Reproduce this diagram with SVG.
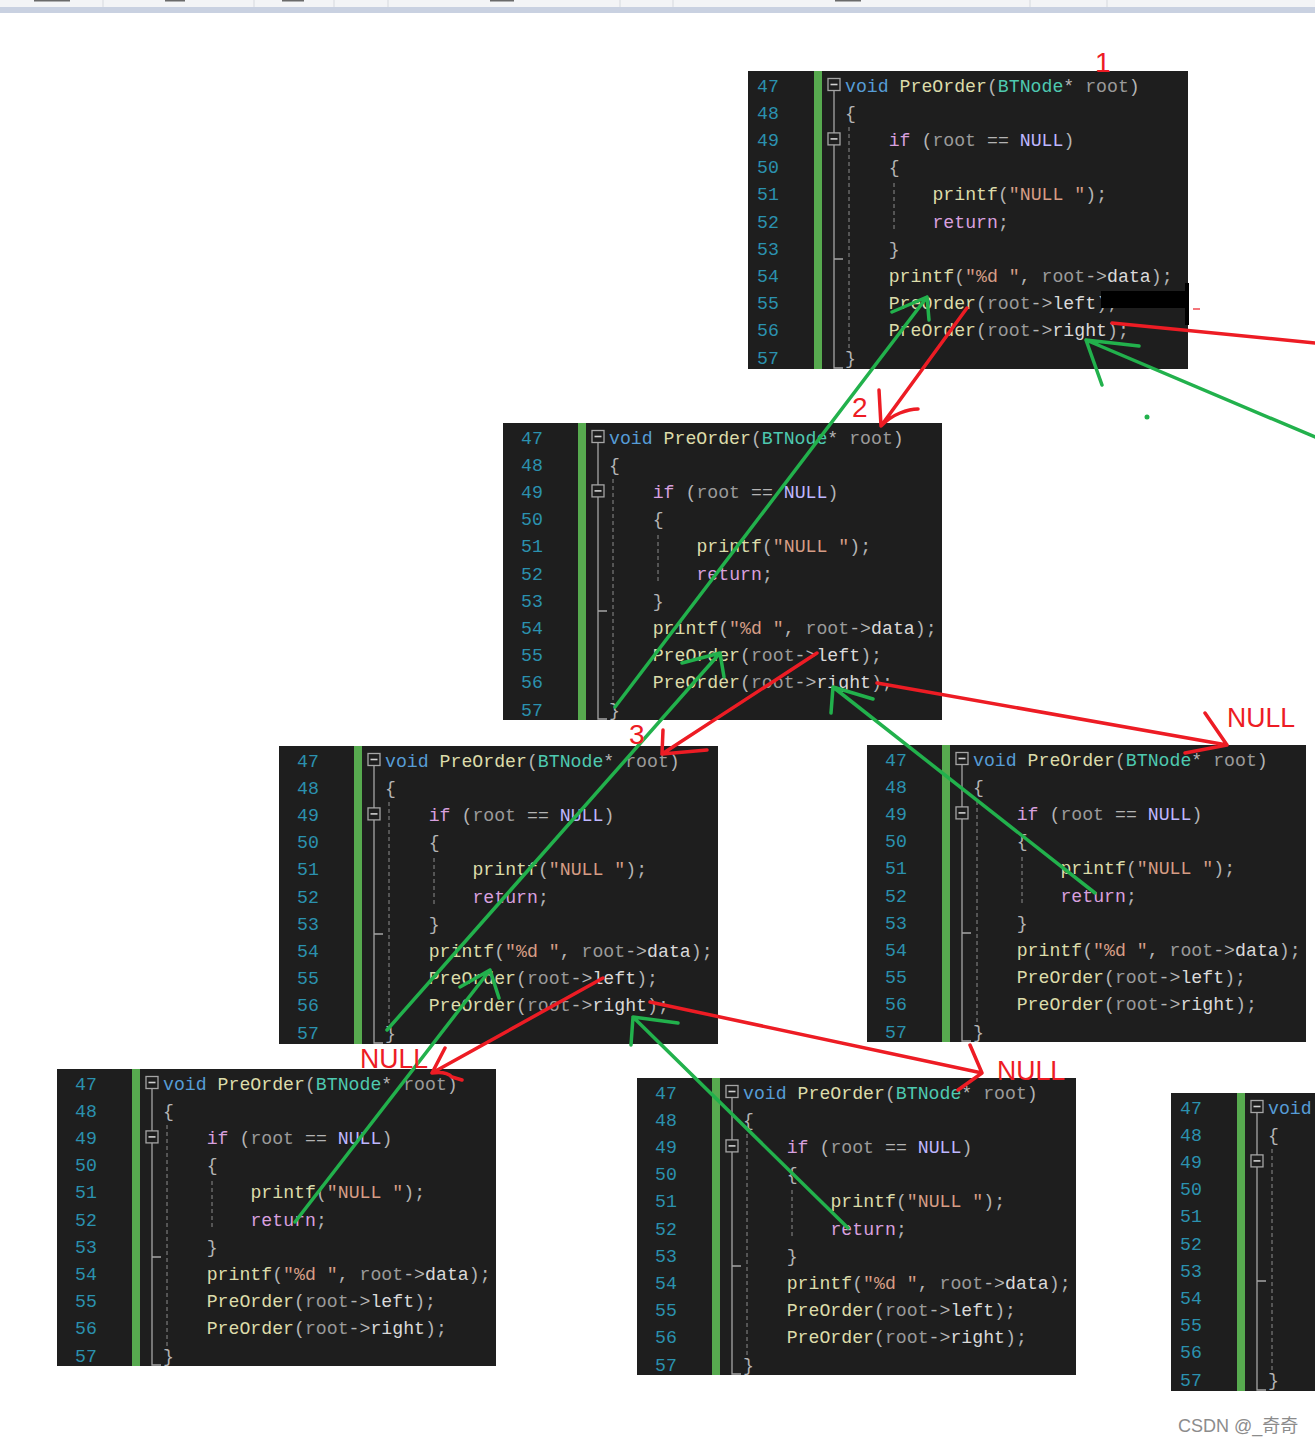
<svg xmlns="http://www.w3.org/2000/svg" width="1315" height="1444" viewBox="0 0 1315 1444">
<style>
.bg{fill:#1E1E1E}
.bar{fill:#57AA4F}
.ln{fill:#2B91AF;font-family:"Liberation Mono","DejaVu Sans Mono",monospace;font-size:18.2px}
.code{fill:#B4B4B4;font-family:"Liberation Mono","DejaVu Sans Mono",monospace;font-size:18.2px}
.k{fill:#569CD6}.f{fill:#DCDCAA}.t{fill:#4EC9B0}.p{fill:#9A9A9A}.c{fill:#D8A0DF}.m{fill:#BEB7FF}.s{fill:#D69D85}.w{fill:#DADADA}
.fold{fill:#1E1E1E;stroke:#A5A5A5;stroke-width:1.3}
.mn{stroke:#D0D0D0;stroke-width:1.6}
.fl{stroke:#A5A5A5;stroke-width:1.3;fill:none}
.dash{stroke:#7A7A7A;stroke-width:1.2;stroke-dasharray:4 3;fill:none}
.red{stroke:#ED1C24;stroke-width:3.5;fill:none;stroke-linecap:round;stroke-linejoin:round}
.grn{stroke:#22B14C;stroke-width:3.5;fill:none;stroke-linecap:round;stroke-linejoin:round}
.lbl{fill:#ED1C24;font-family:"Liberation Sans","Noto Sans",sans-serif;font-size:28px}
</style>
<rect x="0" y="0" width="1315" height="1444" fill="#FFFFFF"/>
<g id="toolbar">
<rect x="0" y="0" width="1315" height="7" fill="#F3F4F6"/>
<rect x="0" y="7" width="1315" height="6" fill="#C9D1E1"/>
<path d="M103,0V7M254,0V7M334,0V7M388,0V7M620,0V7M673,0V7M1030,0V7M1107,0V7" stroke="#D6D9DE" stroke-width="1"/>
<path d="M34,0h36M165,0h20M282,0h22M490,0h24M835,0h26" stroke="#6A6A6A" stroke-width="3"/>
</g>

<g id="node-a" transform="translate(739,71)">
<rect class="bg" x="9" y="0" width="440" height="298"/>
<rect class="bar" x="75" y="0" width="8" height="298"/>
<g class="ln"><text x="18" y="20.5">47</text><text x="18" y="47.7">48</text><text x="18" y="74.9">49</text><text x="18" y="102.1">50</text><text x="18" y="129.3">51</text><text x="18" y="156.5">52</text><text x="18" y="183.7">53</text><text x="18" y="210.9">54</text><text x="18" y="238.1">55</text><text x="18" y="265.3">56</text><text x="18" y="292.5">57</text></g>
<rect class="fold" x="89" y="7.5" width="12" height="12"/><path class="mn" d="M91.5,13.5h7"/>
<rect class="fold" x="89" y="61.9" width="12" height="12"/><path class="mn" d="M91.5,67.9h7"/>
<path class="fl" d="M95,19.5V61.9M95,73.9V297H104M95,188H104"/>
<path class="dash" d="M110,56V282M155,112V158"/>
<g class="code">
<text x="106" y="20.5"><tspan class="k">void</tspan> <tspan class="f">PreOrder</tspan>(<tspan class="t">BTNode</tspan>* <tspan class="p">root</tspan>)</text>
<text x="106" y="47.7">{</text>
<text x="149.7" y="74.9"><tspan class="c">if</tspan> (<tspan class="p">root</tspan> == <tspan class="m">NULL</tspan>)</text>
<text x="149.7" y="102.1">{</text>
<text x="193.4" y="129.3"><tspan class="f">printf</tspan>(<tspan class="s">"NULL "</tspan>);</text>
<text x="193.4" y="156.5"><tspan class="c">return</tspan>;</text>
<text x="149.7" y="183.7">}</text>
<text x="149.7" y="210.9"><tspan class="f">printf</tspan>(<tspan class="s">"%d "</tspan>, <tspan class="p">root</tspan>-&gt;<tspan class="w">data</tspan>);</text>
<text x="149.7" y="238.1"><tspan class="f">PreOrder</tspan>(<tspan class="p">root</tspan>-&gt;<tspan class="w">left</tspan>);</text>
<text x="149.7" y="265.3"><tspan class="f">PreOrder</tspan>(<tspan class="p">root</tspan>-&gt;<tspan class="w">right</tspan>);</text>
<text x="106" y="292.5">}</text>
</g>
</g>

<g id="node-b" transform="translate(503,423)">
<rect class="bg" x="0" y="0" width="439" height="297"/>
<rect class="bar" x="75" y="0" width="8" height="297"/>
<g class="ln"><text x="18" y="20.5">47</text><text x="18" y="47.7">48</text><text x="18" y="74.9">49</text><text x="18" y="102.1">50</text><text x="18" y="129.3">51</text><text x="18" y="156.5">52</text><text x="18" y="183.7">53</text><text x="18" y="210.9">54</text><text x="18" y="238.1">55</text><text x="18" y="265.3">56</text><text x="18" y="292.5">57</text></g>
<rect class="fold" x="89" y="7.5" width="12" height="12"/><path class="mn" d="M91.5,13.5h7"/>
<rect class="fold" x="89" y="61.9" width="12" height="12"/><path class="mn" d="M91.5,67.9h7"/>
<path class="fl" d="M95,19.5V61.9M95,73.9V296H104M95,188H104"/>
<path class="dash" d="M110,56V282M155,112V158"/>
<g class="code">
<text x="106" y="20.5"><tspan class="k">void</tspan> <tspan class="f">PreOrder</tspan>(<tspan class="t">BTNode</tspan>* <tspan class="p">root</tspan>)</text>
<text x="106" y="47.7">{</text>
<text x="149.7" y="74.9"><tspan class="c">if</tspan> (<tspan class="p">root</tspan> == <tspan class="m">NULL</tspan>)</text>
<text x="149.7" y="102.1">{</text>
<text x="193.4" y="129.3"><tspan class="f">printf</tspan>(<tspan class="s">"NULL "</tspan>);</text>
<text x="193.4" y="156.5"><tspan class="c">return</tspan>;</text>
<text x="149.7" y="183.7">}</text>
<text x="149.7" y="210.9"><tspan class="f">printf</tspan>(<tspan class="s">"%d "</tspan>, <tspan class="p">root</tspan>-&gt;<tspan class="w">data</tspan>);</text>
<text x="149.7" y="238.1"><tspan class="f">PreOrder</tspan>(<tspan class="p">root</tspan>-&gt;<tspan class="w">left</tspan>);</text>
<text x="149.7" y="265.3"><tspan class="f">PreOrder</tspan>(<tspan class="p">root</tspan>-&gt;<tspan class="w">right</tspan>);</text>
<text x="106" y="292.5">}</text>
</g>
</g>

<g id="node-c" transform="translate(279,746)">
<rect class="bg" x="0" y="0" width="439" height="298"/>
<rect class="bar" x="75" y="0" width="8" height="298"/>
<g class="ln"><text x="18" y="20.5">47</text><text x="18" y="47.7">48</text><text x="18" y="74.9">49</text><text x="18" y="102.1">50</text><text x="18" y="129.3">51</text><text x="18" y="156.5">52</text><text x="18" y="183.7">53</text><text x="18" y="210.9">54</text><text x="18" y="238.1">55</text><text x="18" y="265.3">56</text><text x="18" y="292.5">57</text></g>
<rect class="fold" x="89" y="7.5" width="12" height="12"/><path class="mn" d="M91.5,13.5h7"/>
<rect class="fold" x="89" y="61.9" width="12" height="12"/><path class="mn" d="M91.5,67.9h7"/>
<path class="fl" d="M95,19.5V61.9M95,73.9V297H104M95,188H104"/>
<path class="dash" d="M110,56V282M155,112V158"/>
<g class="code">
<text x="106" y="20.5"><tspan class="k">void</tspan> <tspan class="f">PreOrder</tspan>(<tspan class="t">BTNode</tspan>* <tspan class="p">root</tspan>)</text>
<text x="106" y="47.7">{</text>
<text x="149.7" y="74.9"><tspan class="c">if</tspan> (<tspan class="p">root</tspan> == <tspan class="m">NULL</tspan>)</text>
<text x="149.7" y="102.1">{</text>
<text x="193.4" y="129.3"><tspan class="f">printf</tspan>(<tspan class="s">"NULL "</tspan>);</text>
<text x="193.4" y="156.5"><tspan class="c">return</tspan>;</text>
<text x="149.7" y="183.7">}</text>
<text x="149.7" y="210.9"><tspan class="f">printf</tspan>(<tspan class="s">"%d "</tspan>, <tspan class="p">root</tspan>-&gt;<tspan class="w">data</tspan>);</text>
<text x="149.7" y="238.1"><tspan class="f">PreOrder</tspan>(<tspan class="p">root</tspan>-&gt;<tspan class="w">left</tspan>);</text>
<text x="149.7" y="265.3"><tspan class="f">PreOrder</tspan>(<tspan class="p">root</tspan>-&gt;<tspan class="w">right</tspan>);</text>
<text x="106" y="292.5">}</text>
</g>
</g>

<g id="node-d" transform="translate(867,745)">
<rect class="bg" x="0" y="0" width="439" height="297"/>
<rect class="bar" x="75" y="0" width="8" height="297"/>
<g class="ln"><text x="18" y="20.5">47</text><text x="18" y="47.7">48</text><text x="18" y="74.9">49</text><text x="18" y="102.1">50</text><text x="18" y="129.3">51</text><text x="18" y="156.5">52</text><text x="18" y="183.7">53</text><text x="18" y="210.9">54</text><text x="18" y="238.1">55</text><text x="18" y="265.3">56</text><text x="18" y="292.5">57</text></g>
<rect class="fold" x="89" y="7.5" width="12" height="12"/><path class="mn" d="M91.5,13.5h7"/>
<rect class="fold" x="89" y="61.9" width="12" height="12"/><path class="mn" d="M91.5,67.9h7"/>
<path class="fl" d="M95,19.5V61.9M95,73.9V296H104M95,188H104"/>
<path class="dash" d="M110,56V282M155,112V158"/>
<g class="code">
<text x="106" y="20.5"><tspan class="k">void</tspan> <tspan class="f">PreOrder</tspan>(<tspan class="t">BTNode</tspan>* <tspan class="p">root</tspan>)</text>
<text x="106" y="47.7">{</text>
<text x="149.7" y="74.9"><tspan class="c">if</tspan> (<tspan class="p">root</tspan> == <tspan class="m">NULL</tspan>)</text>
<text x="149.7" y="102.1">{</text>
<text x="193.4" y="129.3"><tspan class="f">printf</tspan>(<tspan class="s">"NULL "</tspan>);</text>
<text x="193.4" y="156.5"><tspan class="c">return</tspan>;</text>
<text x="149.7" y="183.7">}</text>
<text x="149.7" y="210.9"><tspan class="f">printf</tspan>(<tspan class="s">"%d "</tspan>, <tspan class="p">root</tspan>-&gt;<tspan class="w">data</tspan>);</text>
<text x="149.7" y="238.1"><tspan class="f">PreOrder</tspan>(<tspan class="p">root</tspan>-&gt;<tspan class="w">left</tspan>);</text>
<text x="149.7" y="265.3"><tspan class="f">PreOrder</tspan>(<tspan class="p">root</tspan>-&gt;<tspan class="w">right</tspan>);</text>
<text x="106" y="292.5">}</text>
</g>
</g>

<g id="node-e" transform="translate(57,1069)">
<rect class="bg" x="0" y="0" width="439" height="297"/>
<rect class="bar" x="75" y="0" width="8" height="297"/>
<g class="ln"><text x="18" y="20.5">47</text><text x="18" y="47.7">48</text><text x="18" y="74.9">49</text><text x="18" y="102.1">50</text><text x="18" y="129.3">51</text><text x="18" y="156.5">52</text><text x="18" y="183.7">53</text><text x="18" y="210.9">54</text><text x="18" y="238.1">55</text><text x="18" y="265.3">56</text><text x="18" y="292.5">57</text></g>
<rect class="fold" x="89" y="7.5" width="12" height="12"/><path class="mn" d="M91.5,13.5h7"/>
<rect class="fold" x="89" y="61.9" width="12" height="12"/><path class="mn" d="M91.5,67.9h7"/>
<path class="fl" d="M95,19.5V61.9M95,73.9V296H104M95,188H104"/>
<path class="dash" d="M110,56V282M155,112V158"/>
<g class="code">
<text x="106" y="20.5"><tspan class="k">void</tspan> <tspan class="f">PreOrder</tspan>(<tspan class="t">BTNode</tspan>* <tspan class="p">root</tspan>)</text>
<text x="106" y="47.7">{</text>
<text x="149.7" y="74.9"><tspan class="c">if</tspan> (<tspan class="p">root</tspan> == <tspan class="m">NULL</tspan>)</text>
<text x="149.7" y="102.1">{</text>
<text x="193.4" y="129.3"><tspan class="f">printf</tspan>(<tspan class="s">"NULL "</tspan>);</text>
<text x="193.4" y="156.5"><tspan class="c">return</tspan>;</text>
<text x="149.7" y="183.7">}</text>
<text x="149.7" y="210.9"><tspan class="f">printf</tspan>(<tspan class="s">"%d "</tspan>, <tspan class="p">root</tspan>-&gt;<tspan class="w">data</tspan>);</text>
<text x="149.7" y="238.1"><tspan class="f">PreOrder</tspan>(<tspan class="p">root</tspan>-&gt;<tspan class="w">left</tspan>);</text>
<text x="149.7" y="265.3"><tspan class="f">PreOrder</tspan>(<tspan class="p">root</tspan>-&gt;<tspan class="w">right</tspan>);</text>
<text x="106" y="292.5">}</text>
</g>
</g>

<g id="node-f" transform="translate(637,1078)">
<rect class="bg" x="0" y="0" width="439" height="297"/>
<rect class="bar" x="75" y="0" width="8" height="297"/>
<g class="ln"><text x="18" y="20.5">47</text><text x="18" y="47.7">48</text><text x="18" y="74.9">49</text><text x="18" y="102.1">50</text><text x="18" y="129.3">51</text><text x="18" y="156.5">52</text><text x="18" y="183.7">53</text><text x="18" y="210.9">54</text><text x="18" y="238.1">55</text><text x="18" y="265.3">56</text><text x="18" y="292.5">57</text></g>
<rect class="fold" x="89" y="7.5" width="12" height="12"/><path class="mn" d="M91.5,13.5h7"/>
<rect class="fold" x="89" y="61.9" width="12" height="12"/><path class="mn" d="M91.5,67.9h7"/>
<path class="fl" d="M95,19.5V61.9M95,73.9V296H104M95,188H104"/>
<path class="dash" d="M110,56V282M155,112V158"/>
<g class="code">
<text x="106" y="20.5"><tspan class="k">void</tspan> <tspan class="f">PreOrder</tspan>(<tspan class="t">BTNode</tspan>* <tspan class="p">root</tspan>)</text>
<text x="106" y="47.7">{</text>
<text x="149.7" y="74.9"><tspan class="c">if</tspan> (<tspan class="p">root</tspan> == <tspan class="m">NULL</tspan>)</text>
<text x="149.7" y="102.1">{</text>
<text x="193.4" y="129.3"><tspan class="f">printf</tspan>(<tspan class="s">"NULL "</tspan>);</text>
<text x="193.4" y="156.5"><tspan class="c">return</tspan>;</text>
<text x="149.7" y="183.7">}</text>
<text x="149.7" y="210.9"><tspan class="f">printf</tspan>(<tspan class="s">"%d "</tspan>, <tspan class="p">root</tspan>-&gt;<tspan class="w">data</tspan>);</text>
<text x="149.7" y="238.1"><tspan class="f">PreOrder</tspan>(<tspan class="p">root</tspan>-&gt;<tspan class="w">left</tspan>);</text>
<text x="149.7" y="265.3"><tspan class="f">PreOrder</tspan>(<tspan class="p">root</tspan>-&gt;<tspan class="w">right</tspan>);</text>
<text x="106" y="292.5">}</text>
</g>
</g>

<g id="node-g" transform="translate(1162,1093)">
<rect class="bg" x="9" y="0" width="160" height="298"/>
<rect class="bar" x="75" y="0" width="8" height="298"/>
<g class="ln"><text x="18" y="20.5">47</text><text x="18" y="47.7">48</text><text x="18" y="74.9">49</text><text x="18" y="102.1">50</text><text x="18" y="129.3">51</text><text x="18" y="156.5">52</text><text x="18" y="183.7">53</text><text x="18" y="210.9">54</text><text x="18" y="238.1">55</text><text x="18" y="265.3">56</text><text x="18" y="292.5">57</text></g>
<rect class="fold" x="89" y="7.5" width="12" height="12"/><path class="mn" d="M91.5,13.5h7"/>
<rect class="fold" x="89" y="61.9" width="12" height="12"/><path class="mn" d="M91.5,67.9h7"/>
<path class="fl" d="M95,19.5V61.9M95,73.9V297H104M95,188H104"/>
<path class="dash" d="M110,56V282"/>
<g class="code">
<text x="106" y="20.5" class="k">void</text>
<text x="106" y="47.7">{</text>
<text x="106" y="292.5">}</text>
</g>
</g>

<g id="redaction">
<rect x="1101" y="291" width="86" height="17" fill="#000000"/>
<rect x="1185" y="283" width="4" height="42" fill="#000000"/>
<path d="M1193,309h7" stroke="#ED1C24" stroke-width="1.2"/>
</g>

<g id="connectors">
<path class="red" d="M1315,343L1112,323"/>
<path class="red" d="M967,308L881,426M879,390L881,426Q890,417 900,413Q910,409 918,409"/>
<path class="red" d="M817,653L662,754M663,730L662,754L707,750"/>
<path class="red" d="M877,683L1227,745M1205,713L1227,745L1185,753"/>
<path class="red" d="M603,978L432,1073M445,1048L432,1073Q446,1071 452,1077L462,1080"/>
<path class="red" d="M650,1002L982,1073M970,1045L982,1073L958,1090"/>
<path class="grn" d="M1315,437L1086,340M1139,346L1086,340L1102,385"/>
<path class="grn" d="M615,707L927,297M892,312L927,297L929,320"/>
<path class="grn" d="M387,1030L720,653M682,663L720,653L724,677"/>
<path class="grn" d="M1095,893L833,687M873,699L833,687L831,713"/>
<path class="grn" d="M295,1222L490,970M460,987L490,970L499,998"/>
<path class="grn" d="M848,1228L633,1017M678,1023L633,1017L631,1045"/>
<circle cx="1147" cy="417" r="2.5" fill="#22B14C"/>
</g>

<g id="labels">
<text class="lbl" x="1095" y="72">1</text>
<text class="lbl" x="852" y="417">2</text>
<text class="lbl" x="629" y="744">3</text>
<text class="lbl" x="1227" y="727" textLength="68" lengthAdjust="spacingAndGlyphs">NULL</text>
<text class="lbl" x="360" y="1068" textLength="68" lengthAdjust="spacingAndGlyphs">NULL</text>
<text class="lbl" x="997" y="1080" textLength="68" lengthAdjust="spacingAndGlyphs">NULL</text>
</g>

<text x="1178" y="1432" fill="#8C8C8C" font-family="'Liberation Sans','Noto Sans CJK SC',sans-serif" font-size="18">CSDN @_奇奇</text>
</svg>
